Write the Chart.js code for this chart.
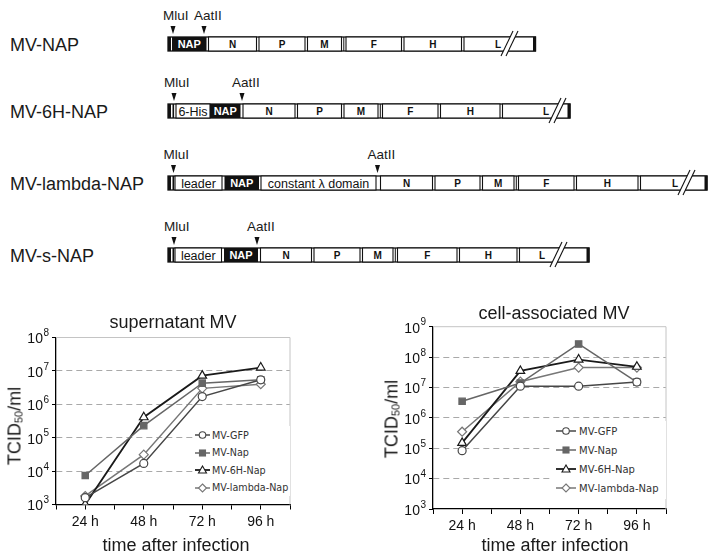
<!DOCTYPE html>
<html>
<head>
<meta charset="utf-8">
<script src="https://cdn.jsdelivr.net/npm/chart.js@4"></script>
<style>
  html, body { margin: 0; padding: 0; background: #fff; }
  #fig { position: relative; width: 717px; height: 560px; overflow: hidden; font-family: "Liberation Sans", Arial, sans-serif; color: #1a1a1a; }
  #maps { position: absolute; left: 0; top: 0; }
  .box { position: absolute; }
  .txt { position: absolute; transform: translate(-50%, -50%); white-space: nowrap; z-index: 3; }
  .ttl { font-size: 18px; }
  .ytl { font-size: 18px; transform: translate(-50%, -50%) rotate(-90deg); }
  .ytl sub { font-size: 11px; vertical-align: -2px; }
  .legend { position: absolute; background: #fff; z-index: 2; font-family: "DejaVu Sans", Verdana, sans-serif; color: #333; }
  .legend .row { display: flex; align-items: center; }
  .legend svg { flex: none; }
</style>
</head>
<body>
<div id="fig">
  <svg id="maps" width="717" height="300"></svg>

  <div class="box" style="left:0;top:300px;width:350px;height:260px"><canvas id="supernatant"></canvas></div>
  <div class="box" style="left:357px;top:300px;width:360px;height:260px"><canvas id="cell"></canvas></div>

  <div class="txt ttl" style="left:173px;top:322px">supernatant MV</div>
  <div class="txt ttl" style="left:554px;top:313px">cell-associated MV</div>
  <div class="txt ttl" style="left:176px;top:545px">time after infection</div>
  <div class="txt ttl" style="left:555px;top:545px">time after infection</div>
  <div class="txt ytl" style="left:15px;top:426px">TCID<sub>50</sub>/ml</div>
  <div class="txt ytl" style="left:392px;top:419px">TCID<sub>50</sub>/ml</div>

  <div class="legend" id="legSuper" style="left:193px;top:426px;width:97px;height:70px"></div>
  <div class="legend" id="legCell" style="left:553px;top:421px;width:113px;height:78px"></div>
</div>

<script>
// ---- data (TCID50/ml) ----
var timeLabels = ['24 h', '48 h', '72 h', '96 h'];
var seriesNames = ['MV-GFP', 'MV-Nap', 'MV-6H-Nap', 'MV-lambda-Nap'];

// supernatant MV
var superGFP    = [1.6e3, 1.7e4, 1.7e6, 5.4e6];
var superNap    = [7.4e3, 2.3e5, 4.3e6, 5.4e6];
var super6H     = [1.0e3, 4.1e5, 7.2e6, 1.26e7];
var superLambda = [1.8e3, 3.1e4, 3.0e6, 4.0e6];

// cell-associated MV
var cellGFP    = [8.3e4, 1.1e7, 1.1e7, 1.5e7];
var cellNap    = [3.5e6, 1.4e7, 2.7e8, 1.5e7];
var cell6H     = [1.5e5, 3.5e7, 8.3e7, 4.8e7];
var cellLambda = [3.5e5, 1.55e7, 4.5e7, 4.5e7];

// y axis ticks
var superTicks = [1e3, 1e4, 1e5, 1e6, 1e7, 1e8];
var cellTicks  = [1e3, 1e4, 1e5, 1e6, 1e7, 1e8, 1e9];

// look of each series
var looks = [
  { color: '#474747', point: 'circle',  fill: '#fff',    r: 4 },
  { color: '#666666', point: 'rect',    fill: '#666666', r: 4.5 },
  { color: '#1a1a1a', point: 'triangle', fill: '#fff',   r: 5 },
  { color: '#777777', point: 'rectRot', fill: '#fff',    r: 4.5 }
];

function toPoints(arr) {
  return arr.map(function (v, i) { return { x: i + 1, y: v }; });
}

function makeDatasets(series) {
  return series.map(function (s, i) {
    var lk = looks[i];
    return {
      label: seriesNames[i],
      data: toPoints(s),
      borderColor: lk.color,
      borderWidth: i == 2 ? 1.8 : 1.5,
      pointStyle: lk.point,
      pointRadius: lk.r,
      pointBackgroundColor: lk.fill,
      pointBorderColor: lk.color,
      pointBorderWidth: 1.2,
      tension: 0
    };
  });
}

// light grey top and right frame of the plot
var frame = {
  id: 'frame',
  beforeDatasetsDraw: function (chart) {
    var a = chart.chartArea, c = chart.ctx;
    c.save();
    c.strokeStyle = '#c4c4c4';
    c.lineWidth = 1;
    c.beginPath();
    c.moveTo(a.left, a.top);
    c.lineTo(a.right, a.top);
    c.lineTo(a.right, a.bottom);
    c.stroke();
    c.restore();
  }
};

// "10" with a raised exponent next to each y tick
var powerLabels = {
  id: 'powerLabels',
  afterDraw: function (chart) {
    var s = chart.scales.y, c = chart.ctx;
    var right = s.right - 7;
    c.save();
    c.fillStyle = '#111';
    c.textBaseline = 'middle';
    c.textAlign = 'right';
    s.ticks.forEach(function (t) {
      var y = s.getPixelForValue(t.value);
      var e = String(Math.round(Math.log10(t.value)));
      c.font = '10px "Liberation Sans", Arial';
      var ew = c.measureText(e).width;
      c.fillText(e, right, y - 4);
      c.font = '14px "Liberation Sans", Arial';
      c.fillText('10', right - ew - 0.5, y + 2);
    });
    c.restore();
  }
};

function makeChart(id, series, ticks, yWidth, xHeight, pad) {
  var yMin = ticks[0], yMax = ticks[ticks.length - 1];
  return new Chart(document.getElementById(id), {
    type: 'line',
    data: { datasets: makeDatasets(series) },
    options: {
      responsive: true,
      maintainAspectRatio: false,
      animation: false,
      layout: { padding: pad },
      plugins: { legend: { display: false }, tooltip: { enabled: false } },
      scales: {
        x: {
          type: 'linear', min: 0.5, max: 4.5,
          afterFit: function (s) { s.height = xHeight; s.paddingLeft = 0; s.paddingRight = 0; },
          grid: { drawOnChartArea: false, tickLength: 5, tickColor: '#000', tickWidth: 1 },
          border: { color: '#000', width: 1.3 },
          ticks: {
            stepSize: 0.5, autoSkip: false, maxRotation: 0, padding: 4,
            color: '#111', font: { family: 'Liberation Sans', size: 14 },
            callback: function (v) { return Number.isInteger(v) ? timeLabels[v - 1] : ''; }
          }
        },
        y: {
          type: 'logarithmic', min: yMin, max: yMax,
          afterBuildTicks: function (s) { s.ticks = ticks.map(function (v) { return { value: v }; }); },
          afterFit: function (s) { s.width = yWidth; s.paddingTop = 0; s.paddingBottom = 0; },
          grid: {
            color: function (ctx) {
              var v = ctx.tick && ctx.tick.value;
              return (v === yMin || v === yMax) ? 'rgba(0,0,0,0)' : '#a9a9a9';
            },
            lineWidth: 1, tickLength: 4, tickColor: '#000', tickWidth: 1
          },
          border: { color: '#000', width: 1.3, dash: [6, 4] },
          ticks: { display: false }
        }
      }
    },
    plugins: [frame, powerLabels]
  });
}

makeChart('supernatant', [superGFP, superNap, super6H, superLambda], superTicks, 56, 55.5,
  { top: 37.5, right: 60, left: 0, bottom: 0 });
makeChart('cell', [cellGFP, cellNap, cell6H, cellLambda], cellTicks, 76, 51,
  { top: 26.7, right: 51, left: 0, bottom: 0 });

// ---- legends (inside plots) ----
function markerSvg(lk, w, h) {
  var cx = w / 2, cy = h / 2, m = '';
  var st = 'stroke="' + lk.color + '" stroke-width="1.1" fill="' + lk.fill + '"';
  if (lk.point == 'circle') m = '<circle cx="' + cx + '" cy="' + cy + '" r="3.3" ' + st + '/>';
  if (lk.point == 'rect') m = '<rect x="' + (cx - 3) + '" y="' + (cy - 3) + '" width="6" height="6" ' + st + '/>';
  if (lk.point == 'triangle') m = '<polygon points="' + cx + ',' + (cy - 4) + ' ' + (cx + 4) + ',' + (cy + 3) + ' ' + (cx - 4) + ',' + (cy + 3) + '" ' + st + '/>';
  if (lk.point == 'rectRot') m = '<polygon points="' + cx + ',' + (cy - 4) + ' ' + (cx + 4) + ',' + cy + ' ' + cx + ',' + (cy + 4) + ' ' + (cx - 4) + ',' + cy + '" ' + st + '/>';
  return '<svg width="' + w + '" height="' + h + '"><line x1="0" y1="' + cy + '" x2="' + w + '" y2="' + cy + '" stroke="' + lk.color + '" stroke-width="' + (lk.color == '#1a1a1a' ? 1.8 : 1.5) + '"/>' + m + '</svg>';
}

function fillLegend(id, rowH, lineW, gap, fontSize, padLeft, padTop) {
  var box = document.getElementById(id);
  box.style.paddingLeft = padLeft + 'px';
  box.style.paddingTop = padTop + 'px';
  box.style.boxSizing = 'border-box';
  box.style.fontSize = fontSize + 'px';
  seriesNames.forEach(function (n, i) {
    var row = document.createElement('div');
    row.className = 'row';
    row.style.height = rowH + 'px';
    row.innerHTML = markerSvg(looks[i], lineW, 10) + '<span style="margin-left:' + gap + 'px">' + n + '</span>';
    box.appendChild(row);
  });
}
fillLegend('legSuper', 17.5, 15, 2, 9.6, 2, 0.25);
fillLegend('legCell', 19, 20, 3, 10, 3, 0.5);

// ---- construct maps (top of the figure) ----
var NS = 'http://www.w3.org/2000/svg';
var maps = document.getElementById('maps');
function el(tag, attrs, text) {
  var e = document.createElementNS(NS, tag);
  for (var k in attrs) e.setAttribute(k, attrs[k]);
  if (text) e.textContent = text;
  maps.appendChild(e);
  return e;
}

var constructs = [
  { name: 'MV-NAP', c: 44, start: 168, end: 535.5, extraBar: false, mlu: 173, aat: 204, lx: 498, slash: 509,
    parts: [['NAP', 172, 206.5, 'k'], ['N', 208.5, 256.5], ['P', 259, 305], ['M', 307.5, 341.5], ['F', 346, 401.5], ['H', 404, 461.5], ['L', 464, 535.5]] },
  { name: 'MV-6H-NAP', c: 111, start: 168, end: 570, extraBar: true, mlu: 174, aat: 242, lx: 546, slash: 557,
    parts: [['6-His', 176, 210, 't'], ['NAP', 210, 240.5, 'k'], ['N', 243, 295], ['P', 297.5, 341.5], ['M', 344, 378], ['F', 382.5, 438], ['H', 440.5, 500], ['L', 502.5, 570]] },
  { name: 'MV-lambda-NAP', c: 183, start: 168, end: 707, extraBar: true, mlu: 173.5, aat: 377.5, lx: 675, slash: 686,
    parts: [['leader', 175, 222, 't'], ['NAP', 224.5, 259, 'k'], ['constant λ domain', 261, 376, 't'], ['N', 380.5, 432.5], ['P', 435, 480], ['M', 482.5, 514], ['F', 518.5, 574], ['H', 576.5, 638], ['L', 640.5, 707]] },
  { name: 'MV-s-NAP', c: 255, start: 168, end: 589, extraBar: true, mlu: 174, aat: 257, lx: 542, slash: 558,
    parts: [['leader', 175, 221.5, 't'], ['NAP', 224, 258, 'k'], ['N', 260.5, 311.5], ['P', 314, 360], ['M', 362.5, 393], ['F', 397.5, 457], ['H', 459.5, 517], ['L', 519.5, 589]] }
];

var FONT = 'Liberation Sans, Arial, sans-serif';
constructs.forEach(function (r) {
  var c = r.c, top = c - 7, h = 14;
  el('text', { x: 10, y: c + 6.5, 'font-size': 18, 'font-family': FONT, fill: '#1a1a1a' }, r.name);

  // restriction sites
  [['MluI', r.mlu], ['AatII', r.aat]].forEach(function (s) {
    el('text', { x: s[1] - 10, y: c - 24, 'font-size': 13.5, 'font-family': FONT, fill: '#1a1a1a' }, s[0]);
    el('polygon', { points: (s[1] - 2.5) + ',' + (c - 18) + ' ' + (s[1] + 2.5) + ',' + (c - 18) + ' ' + s[1] + ',' + (c - 10), fill: '#111' });
  });

  // frame of the genome bar
  el('rect', { x: r.start, y: top, width: r.end - r.start, height: h, fill: '#fff', stroke: '#111', 'stroke-width': 1.3 });
  el('rect', { x: r.start, y: top, width: 3, height: h, fill: '#111' });
  if (r.extraBar) el('rect', { x: 172.5, y: top, width: 1.6, height: h, fill: '#111' });

  r.parts.forEach(function (p, i) {
    var x0 = p[1], x1 = p[2], kind = p[3] || 'g', mid = (x0 + x1) / 2;
    if (kind == 'k') {
      el('rect', { x: x0, y: top, width: x1 - x0, height: h, fill: '#111' });
      el('text', { x: mid, y: c + 4, 'font-size': 11, 'font-weight': 'bold', 'font-family': FONT, fill: '#fff', 'text-anchor': 'middle' }, p[0]);
    } else {
      el('rect', { x: x0, y: top, width: x1 - x0, height: h, fill: '#fff', stroke: '#111', 'stroke-width': 1.1 });
      var big = kind == 't';
      el('text', { x: p[0] == 'L' ? r.lx : mid, y: c + (big ? 4.5 : 3.6), 'font-size': big ? 12.5 : 10, 'font-weight': big ? 'normal' : 'bold',
        'font-family': FONT, fill: '#111', 'text-anchor': 'middle' }, p[0]);
    }
    // triple separator before F
    if (p[0] == 'F') el('line', { x1: x0 - 2.2, y1: top, x2: x0 - 2.2, y2: top + h, stroke: '#111', 'stroke-width': 1 });
  });
  el('rect', { x: r.end - 2.5, y: top, width: 2.5, height: h, fill: '#111' });

  // break mark
  var s = r.slash;
  el('polygon', { points: (s - 8) + ',' + (c + 12) + ' ' + (s + 4) + ',' + (c - 13) + ' ' + (s + 9) + ',' + (c - 13) + ' ' + (s - 3) + ',' + (c + 12), fill: '#fff' });
  el('line', { x1: s - 8, y1: c + 12, x2: s + 4, y2: c - 13, stroke: '#111', 'stroke-width': 1.1 });
  el('line', { x1: s - 3, y1: c + 12, x2: s + 9, y2: c - 13, stroke: '#111', 'stroke-width': 1.1 });
});
</script>
</body>
</html>
